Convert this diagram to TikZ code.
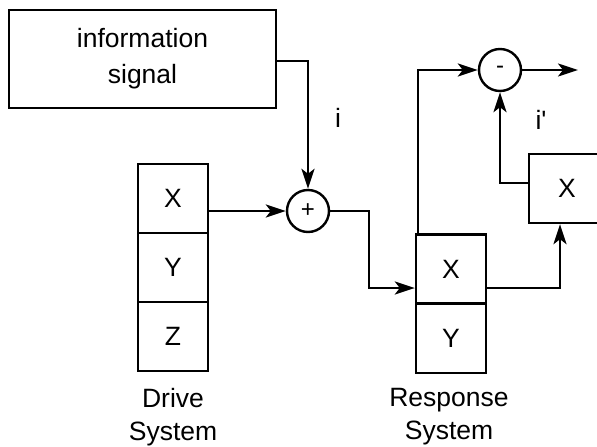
\documentclass[tikz,border=0pt]{standalone}
\usepackage{fontspec}
\setmainfont{Liberation Sans}
\usetikzlibrary{arrows.meta,calc}
\begin{document}
\begin{tikzpicture}[x=1pt,y=-1pt,
  every node/.style={font=\fontsize{26.5}{30}\selectfont},
  box/.style={draw,line width=2.4pt,minimum width=70pt,minimum height=69pt,inner sep=0pt},
  sumnode/.style={draw,circle,line width=2.4pt,minimum size=42pt,inner sep=0pt},
  conn/.style={line width=2.4pt},
  arr/.style={conn,-{Stealth[length=20pt,width=13pt,inset=5pt]}},
  lbl/.style={inner sep=0pt}]
\useasboundingbox (0,0) rectangle (597,447);
\clip (0,0) rectangle (597,447);
% information signal
\node[box,minimum width=267pt,minimum height=98pt,align=center] (info) at (142.5,59) {information\\[6pt]signal};
% drive system
\node[box] (dx) at (173,198.5) {X};
\node[box] (dy) at (173,267.5) {Y};
\node[box] (dz) at (173,336.5) {Z};
\node[lbl,align=center] (dlab) at (173,417) {Drive\\[3pt]System};
% sum
\node[sumnode] (plus) at (308,211) {\fontsize{24}{24}\selectfont +};
% response system
\node[box] (rx) at (451,269) {X};
\node[box] (ry) at (451,338.5) {Y};
\node[lbl,align=center] (rlab) at (449,417) {Response\\[3pt]System};
% minus
\node[sumnode] (minus) at (500,70) {\fontsize{24}{24}\selectfont -};
% right X
\node[box,minimum width=76pt] (xx) at (567,188.5) {X};
% labels
\node[lbl] (li) at (338,118) {i};
\node[lbl] (lip) at (541,120) {i\textquotesingle};
% coordinates
\coordinate (outend) at (578,70);
\coordinate (rtop) at (418,234);
\coordinate (rup) at (418,70);
% connectors
\draw[arr] (info.east |- 0,61) -- (plus.north |- 0,61) -- (plus.north);
\draw[arr] (dx.east |- plus.west) -- (plus.west);
\draw[arr] (plus.east) -- (369,211) -- (369,288) -- (rx.west |- 0,288);
\draw[arr] (rtop) -- (rup) -- (minus.west);
\draw[arr] (minus.east) -- (outend);
\draw[arr] (xx.west |- 0,183) -- (minus.south |- 0,183) -- (minus.south);
\draw[arr] (rx.east |- 0,288) -- (560,288) -- (xx.south -| 560,0);
\end{tikzpicture}
\end{document}
